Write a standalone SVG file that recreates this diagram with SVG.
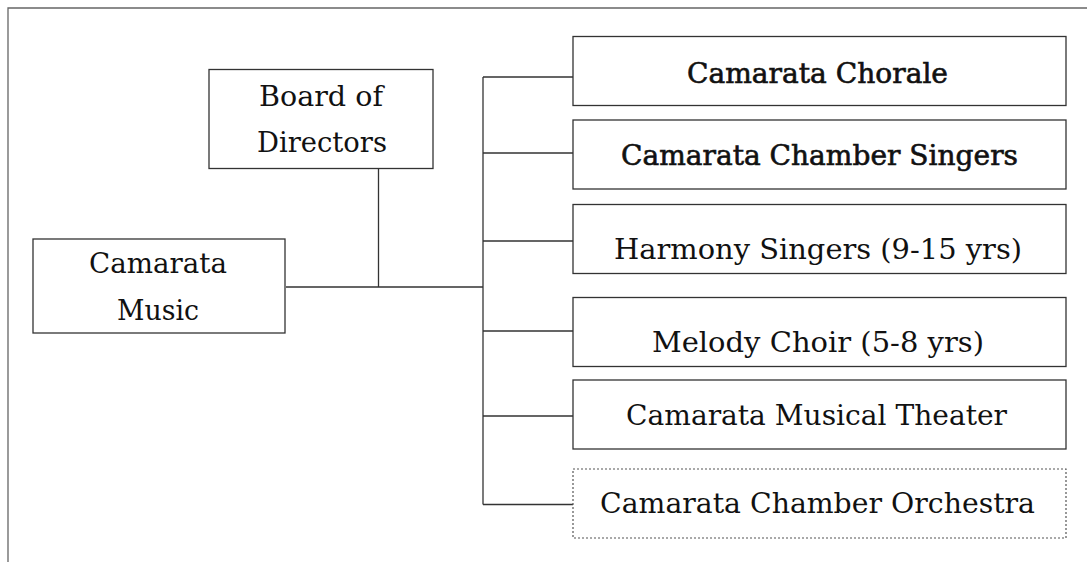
<svg xmlns="http://www.w3.org/2000/svg" width="1087" height="562" viewBox="0 0 1087 562">
<style>
.box{fill:#fff;stroke:#333;stroke-width:1.3}
.dot{fill:#fff;stroke:#555;stroke-width:1.2;stroke-dasharray:2 2}
.t{font-family:"DejaVu Serif","Liberation Serif",serif;font-size:27px;fill:#111;text-anchor:middle}
.b{stroke:#111;stroke-width:0.6}
.ln{stroke:#333;stroke-width:1.3;fill:none}
.frame{stroke:#666;stroke-width:1.3;fill:none}
</style>
<rect width="1087" height="562" fill="#fff"/>
<path class="frame" d="M8,562 V8 H1087"/>
<g id="connectors">
<path class="ln" d="M378.5,169 V287 M286,287 H483"/>
<path class="ln" d="M483,77 V504.5"/>
<path class="ln" d="M483,77 H573 M483,153 H573 M483,241 H573 M483,331 H573 M483,416 H573 M483,504.5 H573"/>
</g>
<g id="board">
<rect class="box" x="209" y="69.5" width="224" height="99"/>
<text class="t" x="321" y="106" textLength="124" lengthAdjust="spacingAndGlyphs">Board of</text>
<text class="t" x="322" y="152" textLength="130" lengthAdjust="spacingAndGlyphs">Directors</text>
</g>
<g id="music">
<rect class="box" x="33" y="239" width="252" height="94"/>
<text class="t" x="158" y="273" textLength="138" lengthAdjust="spacingAndGlyphs">Camarata</text>
<text class="t" x="158" y="320" textLength="82" lengthAdjust="spacingAndGlyphs">Music</text>
</g>
<g id="chorale">
<rect class="box" x="573" y="36.5" width="493" height="69"/>
<text class="t b" x="817.5" y="83" textLength="261" lengthAdjust="spacingAndGlyphs">Camarata Chorale</text>
</g>
<g id="chamber-singers">
<rect class="box" x="573" y="120" width="493" height="69"/>
<text class="t b" x="819.5" y="165" textLength="397" lengthAdjust="spacingAndGlyphs">Camarata Chamber Singers</text>
</g>
<g id="harmony">
<rect class="box" x="573" y="204.5" width="493" height="69"/>
<text class="t" x="818" y="259" textLength="408" lengthAdjust="spacingAndGlyphs">Harmony Singers (9-15 yrs)</text>
</g>
<g id="melody">
<rect class="box" x="573" y="297.5" width="493" height="69"/>
<text class="t" x="818" y="352" textLength="332" lengthAdjust="spacingAndGlyphs">Melody Choir (5-8 yrs)</text>
</g>
<g id="theater">
<rect class="box" x="573" y="380" width="493" height="69"/>
<text class="t" x="816.5" y="425" textLength="381" lengthAdjust="spacingAndGlyphs">Camarata Musical Theater</text>
</g>
<g id="orchestra">
<rect class="dot" x="573" y="469" width="493" height="69"/>
<text class="t" x="817.5" y="513" textLength="435" lengthAdjust="spacingAndGlyphs">Camarata Chamber Orchestra</text>
</g>
</svg>
